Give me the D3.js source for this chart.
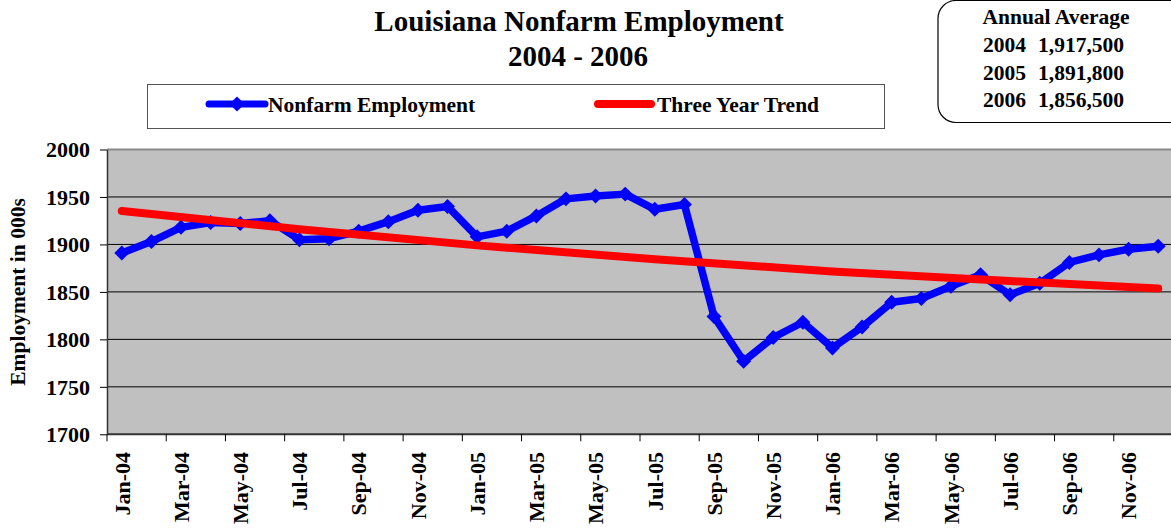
<!DOCTYPE html>
<html>
<head>
<meta charset="utf-8">
<script src="https://cdn.jsdelivr.net/npm/d3@7"></script>
<style>
  html, body { margin: 0; padding: 0; background: #fff; }
  svg { display: block; }
  text { font-family: "Liberation Serif", "Times New Roman", serif; font-weight: bold; fill: #000; }
</style>
</head>
<body>
<svg id="chart" width="1171" height="529"></svg>
<script>
// ---- data ----
const months = ["Jan-04","Feb-04","Mar-04","Apr-04","May-04","Jun-04","Jul-04","Aug-04","Sep-04","Oct-04","Nov-04","Dec-04",
                "Jan-05","Feb-05","Mar-05","Apr-05","May-05","Jun-05","Jul-05","Aug-05","Sep-05","Oct-05","Nov-05","Dec-05",
                "Jan-06","Feb-06","Mar-06","Apr-06","May-06","Jun-06","Jul-06","Aug-06","Sep-06","Oct-06","Nov-06","Dec-06"];
const employment = [1891,1903,1918,1923,1922,1925,1905,1906,1914,1924,1936,1940,
                    1908,1914,1930,1948,1951,1953,1937,1942,1824,1777,1802,1818,
                    1791,1813,1839,1843,1856,1868,1847,1859,1881,1889,1895,1898];
const trendMonths = ["Jan-04","Jul-04","Jan-05","Jul-05","Jan-06","Jul-06","Dec-06"];
const trendValues = [1935.3, 1916, 1899, 1884.5, 1871.5, 1861.5, 1853.5];
const yTicks = [1700,1750,1800,1850,1900,1950,2000];
const avgYears = ["2004","2005","2006"];
const avgValues = [1917500, 1891800, 1856500];
const seriesNames = ["Nonfarm Employment","Three Year Trend"];
const titleLines = ["Louisiana Nonfarm Employment","2004 - 2006"];
const yTitle = "Employment in 000s";

// ---- layout ----
const svg = d3.select("#chart");
const L = 107, R = 1173, T = 149.5, B = 434.3;
const blue = "#0000FF", red = "#FF0000";

const x = d3.scaleBand().domain(months).range([L, R]).padding(0);
const y = d3.scaleLinear().domain([1700, 2000]).range([B, T]);
const cx = m => x(m) + x.bandwidth() / 2;

// plot background
svg.append("rect").attr("x", L).attr("y", T).attr("width", 1171 - L).attr("height", B - T)
  .attr("fill", "#C0C0C0");

// gridlines
svg.append("g").selectAll("line").data(yTicks.filter(v => v > 1700 && v < 2000)).join("line")
  .attr("x1", L).attr("x2", 1171).attr("y1", d => y(d)).attr("y2", d => y(d))
  .attr("stroke", "#000").attr("stroke-width", 1);
// top border
svg.append("line").attr("x1", L).attr("x2", 1171).attr("y1", T).attr("y2", T)
  .attr("stroke", "#888").attr("stroke-width", 2);

// y axis
const yAxis = svg.append("g").attr("transform", `translate(${L},0)`)
  .call(d3.axisLeft(y).tickValues(yTicks).tickSize(7).tickPadding(10).tickSizeOuter(0).tickFormat(d3.format("d")));
yAxis.select(".domain").attr("stroke", "#333").attr("stroke-width", 1.5);
yAxis.selectAll(".tick line").attr("stroke", "#000");
yAxis.selectAll("text").style("font-size", "22px").attr("dy", "0.34em");

// x axis
const xAxisG = svg.append("g");
xAxisG.append("line").attr("x1", L).attr("x2", 1171).attr("y1", B).attr("y2", B)
  .attr("stroke", "#333").attr("stroke-width", 2);
const labelMonths = months.filter((m, i) => i % 2 === 0);
xAxisG.selectAll("line.tk").data(labelMonths).join("line").attr("class", "tk")
  .attr("x1", d => x(d)).attr("x2", d => x(d)).attr("y1", B).attr("y2", B + 7)
  .attr("stroke", "#000").attr("stroke-width", 1);
xAxisG.selectAll("text").data(labelMonths).join("text")
  .attr("transform", d => `translate(${cx(d)},452) rotate(-90)`)
  .attr("text-anchor", "end").attr("dy", "0.35em")
  .style("font-size", "22px").text(d => d);

// y title
svg.append("text").attr("transform", `translate(25,292) rotate(-90)`)
  .attr("text-anchor", "middle").style("font-size", "21.5px").text(yTitle);

// employment line
const line = d3.line().x(d => cx(d[0])).y(d => y(d[1]));
const empData = months.map((m, i) => [m, employment[i]]);
svg.append("path").datum(empData).attr("d", line)
  .attr("fill", "none").attr("stroke", blue).attr("stroke-width", 7.5).attr("stroke-linejoin", "round");
const diamond = d3.symbol().type(d3.symbolSquare).size(112);
svg.append("g").selectAll("path").data(empData).join("path")
  .attr("d", diamond).attr("fill", blue)
  .attr("transform", d => `translate(${cx(d[0])},${y(d[1])}) rotate(45)`);

// trend line
const trendLine = d3.line().x(d => cx(d[0])).y(d => y(d[1])).curve(d3.curveMonotoneX);
const trendData = trendMonths.map((m, i) => [m, trendValues[i]]);
svg.append("path").datum(trendData).attr("d", trendLine)
  .attr("fill", "none").attr("stroke", red).attr("stroke-width", 8).attr("stroke-linecap", "round");

// title
svg.append("text").attr("x", 579).attr("y", 31).attr("text-anchor", "middle")
  .style("font-size", "29px").text(titleLines[0]);
svg.append("text").attr("x", 578).attr("y", 66).attr("text-anchor", "middle")
  .style("font-size", "29px").text(titleLines[1]);

// legend
const lg = svg.append("g");
lg.append("rect").attr("x", 147.5).attr("y", 84.5).attr("width", 737).attr("height", 44)
  .attr("fill", "#fff").attr("stroke", "#555").attr("stroke-width", 1);
lg.append("line").attr("x1", 209).attr("x2", 265).attr("y1", 104).attr("y2", 104)
  .attr("stroke", blue).attr("stroke-width", 7).attr("stroke-linecap", "round");
lg.append("path").attr("d", diamond).attr("fill", blue).attr("transform", "translate(237,104) rotate(45)");
lg.append("text").attr("x", 268).attr("y", 111.5).style("font-size", "21.5px").text(seriesNames[0]);
lg.append("line").attr("x1", 598).attr("x2", 651).attr("y1", 104).attr("y2", 104)
  .attr("stroke", red).attr("stroke-width", 8).attr("stroke-linecap", "round");
lg.append("text").attr("x", 657).attr("y", 111.5).style("font-size", "21.5px").text(seriesNames[1]);

// annual average box
const ab = svg.append("g");
ab.append("rect").attr("x", 938).attr("y", 0.5).attr("width", 260).attr("height", 122)
  .attr("rx", 18).attr("ry", 18).attr("fill", "#fff").attr("stroke", "#000").attr("stroke-width", 1.2);
ab.append("text").attr("x", 1056).attr("y", 24).attr("text-anchor", "middle")
  .style("font-size", "21.5px").text("Annual Average");
const fmt = d3.format(",");
avgYears.forEach((yr, i) => {
  const by = 52 + i * 27.5;
  ab.append("text").attr("x", 983).attr("y", by).style("font-size", "21.5px").text(yr);
  ab.append("text").attr("x", 1124).attr("y", by).attr("text-anchor", "end")
    .style("font-size", "21.5px").text(fmt(avgValues[i]));
});
</script>
</body>
</html>
